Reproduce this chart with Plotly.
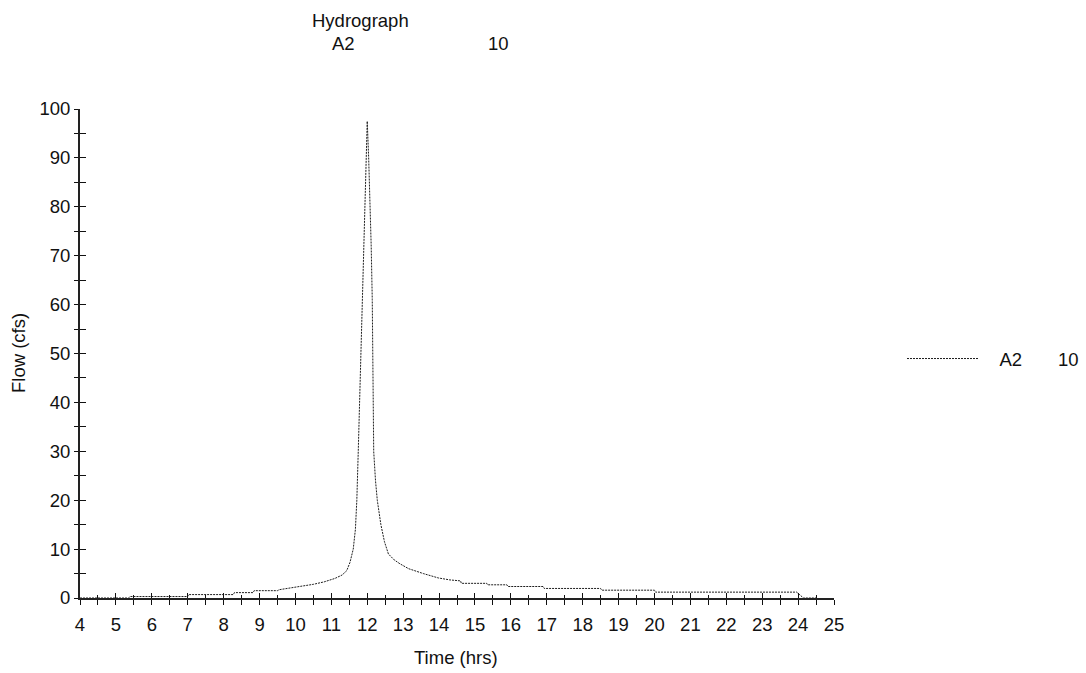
import plotly.graph_objects as go

# Hydrograph data (hours, cfs)
time_hrs = [4.0, 5.35, 5.4, 7.0, 7.02, 8.27, 8.3, 8.82, 8.85, 9.5, 9.55, 9.9, 10.2,
            10.5, 10.8, 11.1, 11.3, 11.43, 11.52, 11.61, 11.67, 11.71, 11.75, 11.8,
            11.86, 11.92, 11.97, 12.0, 12.04, 12.08, 12.11, 12.14, 12.16, 12.18,
            12.23, 12.28, 12.38, 12.48, 12.59, 12.75, 12.91, 13.15, 13.56, 13.98,
            14.3, 14.6, 14.62, 15.33, 15.35, 15.89, 15.92, 16.9, 16.93, 18.5, 18.53,
            20.0, 20.03, 23.96, 24.15, 24.5]
flow_cfs = [0.0, 0.0, 0.3, 0.3, 0.7, 0.7, 1.1, 1.1, 1.5, 1.5, 1.7, 2.1, 2.4,
            2.8, 3.3, 4.0, 4.7, 5.6, 7.3, 10.0, 14.0, 20.0, 30.0, 44.0,
            61.0, 81.0, 93.0, 97.5, 90.0, 81.0, 72.0, 61.0, 45.0, 30.0,
            24.0, 20.0, 15.0, 11.5, 9.0, 7.8, 7.0, 6.0, 5.0, 4.1,
            3.7, 3.5, 3.0, 3.0, 2.7, 2.7, 2.35, 2.35, 1.95, 1.95, 1.6,
            1.6, 1.2, 1.2, 0.0, 0.0]

series_name = "A2"
series_freq = "10"
title_main = "Hydrograph"
x_title = "Time (hrs)"
y_title = "Flow (cfs)"

FONT = "Liberation Sans, Arial, sans-serif"
FS = 18.5
L, R, T, B = 80, 252, 109, 75
W, H = 1086, 673
PW, PH = W - L - R, H - T - B

def px_x(p):
    return (p - L) / PW

def px_y(p):
    return (H - B - p) / PH

NB = "\u00a0"
fig = go.Figure()
fig.add_trace(go.Scatter(
    x=time_hrs, y=flow_cfs, mode="lines",
    name=NB * 3 + series_name + NB * 7 + series_freq,
    line=dict(color="#1e1e1e", width=1, dash="2px,1px"),
))
# helper trace to activate the inner-tick overlay axes
fig.add_trace(go.Scatter(x=[None], y=[None], xaxis="x2", yaxis="y2",
                         showlegend=False, hoverinfo="skip"))

axis_common = dict(showgrid=False, zeroline=False, tickcolor="#111",
                   tickfont=dict(family=FONT, size=FS, color="#111"))

def txt(text, x, y, angle=0):
    return dict(text=text, xref="paper", yref="paper", x=px_x(x), y=px_y(y),
                xanchor="center", yanchor="middle", showarrow=False, textangle=angle,
                font=dict(family=FONT, size=FS, color="#111"))

fig.update_layout(
    width=W, height=H,
    margin=dict(l=L, r=R, t=T, b=B, pad=0, autoexpand=False),
    paper_bgcolor="white", plot_bgcolor="white",
    font=dict(family=FONT, color="#111"),
    showlegend=True,
    legend=dict(x=px_x(902), y=px_y(359), xanchor="left", yanchor="middle",
                itemwidth=72, font=dict(family=FONT, size=FS, color="#111"),
                bgcolor="rgba(0,0,0,0)"),
    xaxis=dict(range=[4, 25], tick0=4, dtick=1, ticks="outside", ticklen=5,
               tickwidth=1.3, showline=True, linecolor="#222", linewidth=2,
               ticklabelstandoff=4,
               minor=dict(ticks="outside", ticklen=5, dtick=0.5, tick0=4, tickcolor="#111"),
               **axis_common),
    xaxis2=dict(range=[4, 25], tick0=4, dtick=1, ticks="inside", ticklen=5,
                tickwidth=1.3, overlaying="x", anchor="y", side="bottom",
                showticklabels=False, showline=False,
                minor=dict(ticks="inside", ticklen=3, dtick=0.5, tick0=4, tickcolor="#111"),
                **axis_common),
    yaxis=dict(range=[0, 100], tick0=0, dtick=10, ticks="outside", ticklen=4,
               tickwidth=1.3, showline=True, linecolor="#222", linewidth=2,
               minor=dict(ticks="outside", ticklen=4, dtick=5, tick0=0, tickcolor="#111"),
               **axis_common),
    yaxis2=dict(range=[0, 100], tick0=0, dtick=10, ticks="inside", ticklen=6,
                tickwidth=1.3, overlaying="y", anchor="x", side="left",
                showticklabels=False, showline=False,
                minor=dict(ticks="inside", ticklen=6, dtick=5, tick0=0, tickcolor="#111"),
                **axis_common),
    annotations=[
        txt(title_main, 360, 20),
        txt(series_name, 343.5, 44),
        txt(series_freq, 498, 44),
        txt(x_title, 456, 657),
        txt(y_title, 18.5, 352.5, angle=-90),
    ],
)

fig.write_html("out.html")
